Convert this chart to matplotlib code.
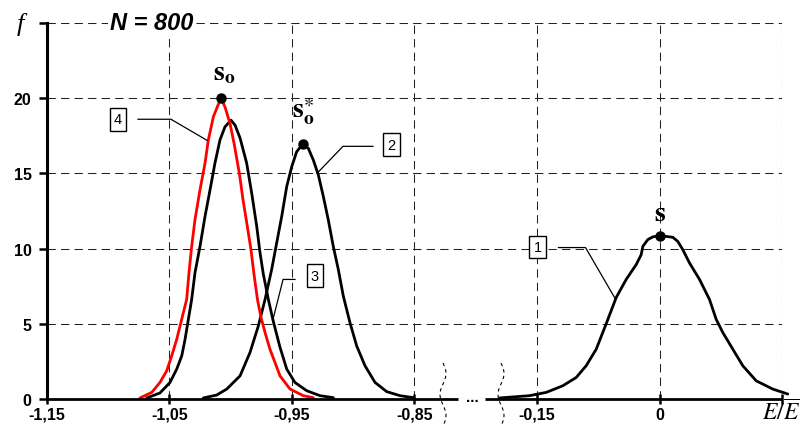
import numpy as np
import matplotlib
matplotlib.use('Agg')
import matplotlib.pyplot as plt

plt.rcParams['mathtext.fontset'] = 'stix'
plt.rcParams['font.family'] = ['Liberation Sans', 'DejaVu Sans']

# ---------------- data ----------------
x_ticks = [-1.15, -1.05, -0.95, -0.85, -0.15, 0.0, 0.15]
x_tick_labels = ['-1,15', '-1,05', '-0,95', '-0,85', '-0,15', '0', '']
y_ticks = [0, 5, 10, 15, 20, 25]
y_tick_labels = ['0', '5', '10', '15', '20', '']

# curve 1 (right, black, s)
c1_x = [-0.1959, -0.1592, -0.1387, -0.1184, -0.1020, -0.0898, -0.0775, -0.0653,
        -0.0530, -0.0408, -0.0285, -0.0224, -0.0204, -0.0143, -0.0082, 0.0, 0.0082, 0.0163,
        0.0224, 0.0285, 0.0367, 0.0490, 0.0612, 0.0694, 0.0775, 0.0898, 0.1020, 0.1184,
        0.1387, 0.1571]
c1_y = [0.07, 0.22, 0.44, 0.88, 1.43, 2.21, 3.31, 5.0, 6.75, 7.95, 8.94, 9.60, 10.15,
        10.60, 10.78, 10.86, 10.81, 10.75, 10.48, 9.93, 9.05, 7.95, 6.62, 5.30, 4.42, 3.31,
        2.21, 1.21, 0.66, 0.33]
# curve 2 (black, s_o*)
c2_x = [-1.0224, -1.0115, -1.0033, -0.9924, -0.9843, -0.9775, -0.9720, -0.9666, -0.9625,
        -0.9584, -0.9543, -0.9502, -0.9462, -0.9413, -0.9367, -0.9326, -0.9285, -0.9244,
        -0.9204, -0.9163, -0.9122, -0.9081, -0.9027, -0.8972, -0.8904, -0.8822, -0.8727,
        -0.8618, -0.8510]
c2_y = [0.07, 0.26, 0.66, 1.54, 3.09, 4.85, 6.62, 8.61, 10.38, 12.14, 14.13, 15.45, 16.44,
        16.95, 16.67, 15.89, 14.90, 13.46, 11.92, 10.15, 8.61, 6.84, 5.08, 3.53, 2.21, 1.10,
        0.49, 0.22, 0.09]
# curve 3 (black)
c3_x = [-1.0686, -1.0578, -1.0496, -1.0441, -1.0400, -1.0373, -1.0319, -1.0292, -1.0251,
        -1.0210, -1.0169, -1.0129, -1.0088, -1.0047, -0.9998, -0.9965, -0.9924, -0.9870,
        -0.9829, -0.9788, -0.9761, -0.9734, -0.9693, -0.9653, -0.9598, -0.9543, -0.9476,
        -0.9380, -0.9271, -0.9163]
c3_y = [0.07, 0.40, 1.10, 1.99, 2.87, 3.97, 6.62, 8.39, 10.15, 12.14, 13.91, 15.68, 17.22,
        18.10, 18.54, 18.21, 17.35, 15.68, 13.69, 11.48, 9.72, 8.30, 6.62, 5.17, 3.44, 1.99,
        1.10, 0.55, 0.22, 0.09]
# curve 4 (red, s_o)
c4_x = [-1.0741, -1.0645, -1.0578, -1.0523, -1.0482, -1.0441, -1.0360, -1.0341, -1.0319,
        -1.0292, -1.0251, -1.0210, -1.0183, -1.0142, -1.0110, -1.0080, -1.0047, -1.0006,
        -0.9973, -0.9929, -0.9900, -0.9867, -0.9835, -0.9810, -0.9782, -0.9753, -0.9720,
        -0.9680, -0.9639, -0.9598, -0.9516, -0.9408, -0.9326]
c4_y = [0.07, 0.44, 1.10, 1.87, 2.87, 3.97, 6.62, 8.39, 10.15, 11.92, 13.91, 15.68, 17.22,
        18.76, 19.42, 20.0, 19.42, 18.32, 17.0, 14.97, 13.25, 11.59, 9.93, 8.28, 6.62, 5.43,
        4.42, 3.31, 2.43, 1.54, 0.66, 0.22, 0.09]

# ---------------- broken x scale ----------------
BREAK_L, BREAK_R = -0.815, -0.2136
U_L = (BREAK_L + 1.15) / 0.1
U_R = 4 + (BREAK_R + 0.15) / 0.15


def fwd(x):
    x = np.asarray(x, dtype=float)
    left = (x + 1.15) / 0.1
    right = 4 + (x + 0.15) / 0.15
    mid = U_L + (x - BREAK_L) * (U_R - U_L) / (BREAK_R - BREAK_L)
    return np.where(x <= BREAK_L, left, np.where(x >= BREAK_R, right, mid))


def inv(u):
    u = np.asarray(u, dtype=float)
    left = u * 0.1 - 1.15
    right = (u - 4) * 0.15 - 0.15
    mid = BREAK_L + (u - U_L) * (BREAK_R - BREAK_L) / (U_R - U_L)
    return np.where(u <= U_L, left, np.where(u >= U_R, right, mid))


fig = plt.figure(figsize=(8.01, 4.27), dpi=100)
ax = fig.add_axes([47 / 801, 27 / 427, 735 / 801, 376 / 427])
ax.set_xscale('function', functions=(fwd, inv))
ax.set_xlim(-1.15, 0.15)
ax.set_ylim(0, 25)

ax.set_xticks(x_ticks)
ax.set_xticklabels(x_tick_labels, fontweight='bold', fontsize=11.5)
ax.set_yticks(y_ticks)
ax.set_yticklabels(y_tick_labels, fontweight='bold', fontsize=11.5)
ax.grid(True, color='#222222', lw=0.75, linestyle=(0, (8, 5)))
ax.set_axisbelow(True)

for s in ['top', 'right', 'bottom']:
    ax.spines[s].set_visible(False)
ax.spines['left'].set_linewidth(2.2)
ax.spines['left'].set_zorder(5)

ax.tick_params(axis='y', direction='out', length=6, width=1.8, pad=5)
ax.tick_params(axis='x', direction='inout', length=7, width=1.8, pad=2)

# broken bottom axis
ax.plot([0, (458 - 47) / 735], [0, 0], transform=ax.transAxes, color='black', lw=2.0,
        clip_on=False, zorder=5, solid_capstyle='butt')
ax.plot([(485 - 47) / 735, 1.0], [0, 0], transform=ax.transAxes, color='black', lw=2.0,
        clip_on=False, zorder=5, solid_capstyle='butt')
ax.text((472 - 47) / 735, 0.004, '...', transform=ax.transAxes, ha='center', va='center',
        fontsize=11, fontweight='bold')
for px0 in [443, 501]:
    py = np.linspace(364, 427, 40)
    px = px0 + 3.0 * np.sin((py - 364) / 63 * 3 * np.pi)
    ax.plot((px - 47) / 735, (400 - py) / 376, transform=ax.transAxes, color='black',
            lw=0.8, linestyle=(0, (3, 3)), clip_on=False)

# curves
kw = dict(lw=2.0, solid_joinstyle='round', solid_capstyle='round')
ax.plot(c3_x, c3_y, color='black', zorder=3, **kw)
ax.plot(c2_x, c2_y, color='black', zorder=3, **kw)
ax.plot(c1_x, c1_y, color='black', zorder=3, clip_on=False, **kw)
ax.plot(c4_x, c4_y, color='#ff0000', zorder=4, **kw)

# peak dots
for cx, cy in [(c4_x, c4_y), (c2_x, c2_y), (c1_x, c1_y)]:
    i = int(np.argmax(cy))
    ax.plot([cx[i]], [cy[i]], 'o', color='black', ms=6.5, zorder=6)

# labels near peaks
ax.text(-1.0055, 21.7, r'$\mathbf{s}_{\mathbf{o}}$', ha='center', va='center', fontsize=20)
ax.text(-0.941, 19.2, r'$\mathbf{s}_{\mathbf{o}}^{\ast}$', ha='center', va='center', fontsize=20)
ax.text(0.0012, 12.4, r'$\mathbf{s}$', ha='center', va='center', fontsize=20)

# numbered boxes with leader lines
boxes = [
    ('4', (-1.092, 18.6), [(-1.0757, 18.6), (-1.0488, 18.6), (-1.0194, 17.2)]),
    ('2', (-0.869, 16.9), [(-0.8839, 16.8), (-0.9084, 16.8), (-0.9296, 15.0)]),
    ('3', (-0.9312, 8.2), [(-0.9476, 7.95), (-0.9573, 7.95), (-0.9655, 5.3)]),
    ('1', (-0.1494, 10.1), [(-0.1237, 10.07), (-0.0906, 10.07), (-0.0545, 6.7)]),
]
for lab, (bx, by), pts in boxes:
    ax.text(bx, by, lab, ha='center', va='center', fontsize=10.5,
            bbox=dict(boxstyle='square,pad=0.3', fc='white', ec='black', lw=1.0), zorder=7)
    ax.plot([p[0] for p in pts], [p[1] for p in pts], color='black', lw=0.9, zorder=6)

# titles / axis labels
fig.text(152 / 801, 1 - 24 / 427, 'N = 800', ha='center', va='center', fontsize=17,
         fontweight='bold', fontstyle='italic',
         bbox=dict(boxstyle='square,pad=0.1', fc='white', ec='none'))
fig.text(20 / 801, 1 - 24 / 427, 'f', ha='center', va='center', fontsize=19,
         fontstyle='italic', family='Liberation Serif')
fig.text(781 / 801, 1 - 412 / 427, r'$E/\overline{E}$', ha='center', va='center', fontsize=17)

fig.savefig('out.png', dpi=100)
